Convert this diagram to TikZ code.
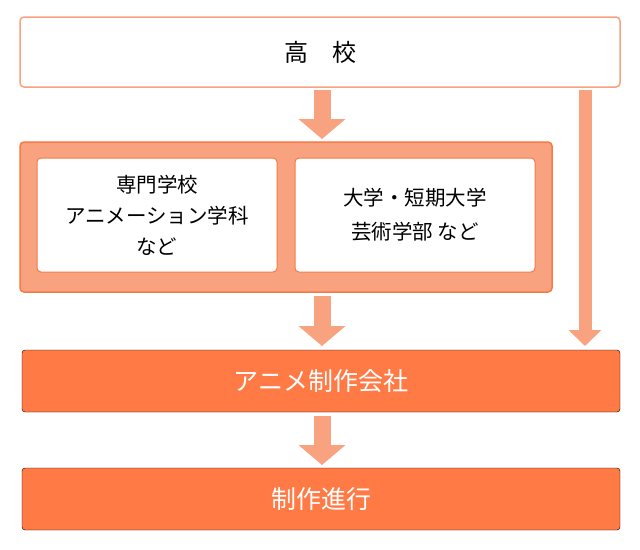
\documentclass[tikz,border=0pt]{standalone}
\usepackage{fontspec}
\setmainfont{Noto Sans CJK JP}
\usetikzlibrary{arrows.meta}
\definecolor{salmon}{HTML}{F9A27F}
\definecolor{deeporange}{HTML}{FF7A45}
\definecolor{midorange}{HTML}{F57A45}
\begin{document}
\begin{tikzpicture}[x=1pt, y=-1pt,
        box_style/.style={draw=salmon, line width=1.5pt, rounded corners=4pt, fill=white},
        group_style/.style={draw=midorange, line width=1.5pt, rounded corners=4pt, fill=salmon},
        inner_style/.style={draw=midorange, line width=1pt, rounded corners=4pt, fill=white},
        goal_style/.style={rounded corners=3pt, fill=deeporange},
        fat_arrow/.style={draw=salmon, line width=17pt, -{Triangle[width=46pt,length=20pt]}},
        thin_arrow/.style={draw=salmon, line width=13pt, -{Triangle[width=32pt,length=16pt]}}]

        \useasboundingbox (0,0) rectangle (640,549);

        \draw [box_style] (20,17) rectangle (620,87);
        \node (school) at (320,52) [font=\fontsize{24}{28}\selectfont] {高\quad 校};

        \draw [group_style] (20,142) rectangle (552,292);
        \draw [inner_style] (37,158) rectangle (277,272);
        \draw [inner_style] (295,158) rectangle (535,272);
        \node [align=center, font=\fontsize{20.5}{31}\selectfont] (senmon) at (157,215) {専門学校\\アニメーション学科\\など};
        \node [align=center, font=\fontsize{20.5}{34}\selectfont] (daigaku) at (415,215) {大学・短期大学\\芸術学部 など};

        \draw [goal_style] (22,350) rectangle (620,412);
        \node [text=white, font=\fontsize{25}{30}\selectfont] (company) at (321,381) {アニメ制作会社};

        \draw [goal_style] (22,468) rectangle (620,530);
        \node [text=white, font=\fontsize{25}{30}\selectfont] (shinko) at (321,499) {制作進行};

        \coordinate (a1s) at (322,90);  \coordinate (a1e) at (322,139);
        \coordinate (a2s) at (322,296); \coordinate (a2e) at (322,346);
        \coordinate (a3s) at (322,416); \coordinate (a3e) at (322,465);
        \coordinate (a4s) at (585,90);  \coordinate (a4e) at (585,346);

        \draw [fat_arrow] (a1s) -- (a1e);
        \draw [fat_arrow] (a2s) -- (a2e);
        \draw [fat_arrow] (a3s) -- (a3e);
        \draw [thin_arrow] (a4s) -- (a4e);
\end{tikzpicture}
\end{document}
